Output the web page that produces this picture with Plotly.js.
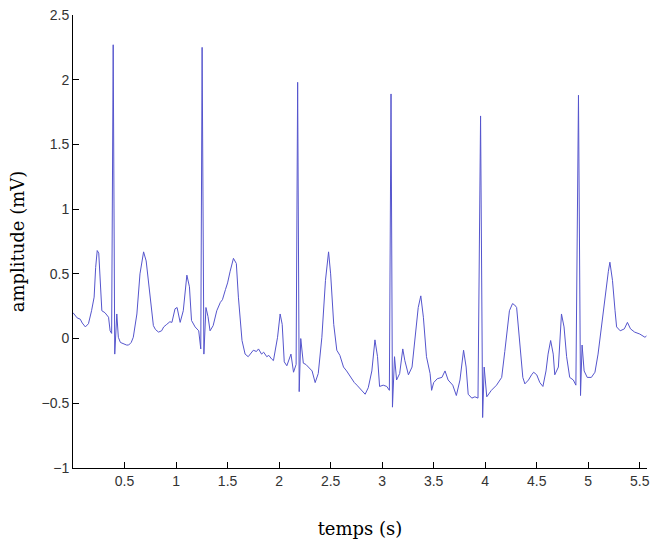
<!DOCTYPE html>
<html>
<head>
<meta charset="utf-8">
<script src="https://cdn.plot.ly/plotly-3.0.1.min.js"></script>
<style>html,body{margin:0;padding:0;background:#fff;}#chart{width:652px;height:542px;}</style>
</head>
<body>
<div id="chart"></div>
<script>
// ECG samples: time (s) and amplitude (mV)
const timeS = [
  0.00, 0.02, 0.04, 0.07, 0.09, 0.12, 0.15, 0.18, 0.205, 0.22, 0.235, 0.25, 0.265, 0.28, 0.31, 0.33, 0.345, 0.36, 0.375, 0.39, 0.405, 0.425, 0.44, 0.46, 0.49, 0.52, 0.54, 0.565, 0.585, 0.60, 0.62, 0.65, 0.685, 0.71, 0.75, 0.78, 0.80, 0.83,
  0.86, 0.88, 0.91, 0.94, 0.96, 0.99, 1.01, 1.04, 1.07, 1.105, 1.13, 1.15, 1.185, 1.22, 1.24, 1.253, 1.27, 1.29, 1.31, 1.33, 1.36, 1.395, 1.43, 1.45, 1.48, 1.50, 1.525, 1.557, 1.585, 1.605, 1.64, 1.67, 1.70,
  1.73, 1.75, 1.78, 1.80, 1.83, 1.85, 1.88, 1.90, 1.93, 1.945, 1.985, 2.01, 2.03, 2.05, 2.075, 2.115, 2.14, 2.165, 2.18, 2.195, 2.21, 2.235, 2.26, 2.285, 2.32, 2.35, 2.38, 2.415, 2.45, 2.48, 2.50, 2.53, 2.56, 2.59,
  2.625, 2.655, 2.68, 2.705, 2.73, 2.755, 2.78, 2.80, 2.835, 2.865, 2.90, 2.93, 2.955, 2.975, 3.01, 3.045, 3.07, 3.086, 3.10, 3.12, 3.14, 3.17, 3.20, 3.22, 3.255, 3.29, 3.32, 3.35, 3.375, 3.40, 3.43, 3.465,
  3.48, 3.50, 3.535, 3.58, 3.61, 3.64, 3.685, 3.72, 3.755, 3.79, 3.815, 3.835, 3.87, 3.90, 3.93, 3.955, 3.975, 3.99, 4.015, 4.06, 4.11, 4.16, 4.19, 4.21, 4.235, 4.265, 4.285, 4.305, 4.33, 4.365, 4.385,
  4.42, 4.45, 4.47, 4.50, 4.53, 4.56, 4.59, 4.61, 4.635, 4.66, 4.675, 4.71, 4.74, 4.765, 4.79, 4.82, 4.855, 4.88, 4.905, 4.925, 4.94, 4.96, 4.99, 5.03, 5.065, 5.095, 5.13, 5.16, 5.195, 5.21, 5.235, 5.26, 5.275, 5.31, 5.35, 5.38, 5.41, 5.45, 5.50, 5.55, 5.565
];
const amplitudeMV = [
  0.20, 0.18, 0.16, 0.15, 0.12, 0.09, 0.115, 0.215, 0.32, 0.55, 0.68, 0.66, 0.45, 0.215, 0.20, 0.18, 0.165, 0.06, 0.04, 2.27, -0.12, 0.19, 0.01, -0.03, -0.04, -0.05, -0.05, -0.03, 0.01, 0.08, 0.19, 0.50, 0.67, 0.60, 0.32, 0.10, 0.07, 0.05,
  0.06, 0.09, 0.11, 0.13, 0.125, 0.23, 0.24, 0.125, 0.215, 0.49, 0.40, 0.14, 0.09, 0.06, -0.08, 2.25, -0.12, 0.24, 0.17, 0.06, 0.10, 0.215, 0.28, 0.30, 0.38, 0.43, 0.52, 0.62, 0.58, 0.32, -0.015, -0.12, -0.14,
  -0.11, -0.09, -0.10, -0.08, -0.12, -0.105, -0.14, -0.13, -0.16, -0.17, 0.01, 0.19, 0.11, -0.18, -0.21, -0.12, -0.26, -0.20, 1.98, -0.41, 0.0, -0.19, -0.20, -0.22, -0.25, -0.34, -0.27, 0.01, 0.45, 0.67, 0.50, 0.11, -0.09, -0.13,
  -0.22, -0.25, -0.28, -0.32, -0.34, -0.36, -0.38, -0.40, -0.43, -0.38, -0.25, -0.01, -0.14, -0.37, -0.36, -0.37, -0.40, 1.89, -0.53, -0.14, -0.32, -0.27, -0.08, -0.17, -0.28, -0.22, 0.036, 0.24, 0.33, 0.165, -0.14, -0.27,
  -0.40, -0.34, -0.31, -0.30, -0.25, -0.32, -0.36, -0.44, -0.32, -0.09, -0.22, -0.43, -0.46, -0.45, -0.46, 1.72, -0.61, -0.22, -0.45, -0.40, -0.36, -0.30, -0.10, 0.05, 0.215, 0.27, 0.26, 0.24, 0.01, -0.30, -0.35,
  -0.32, -0.28, -0.26, -0.28, -0.34, -0.37, -0.25, -0.12, -0.015, -0.12, -0.28, -0.22, 0.19, 0.09, -0.14, -0.30, -0.32, -0.36, 1.88, -0.44, -0.05, -0.25, -0.30, -0.30, -0.26, -0.12, 0.11, 0.32, 0.52, 0.59, 0.45, 0.215, 0.09, 0.06, 0.075, 0.125, 0.075, 0.05, 0.035, 0.01, 0.02
];
const xTicks = [0.5, 1, 1.5, 2, 2.5, 3, 3.5, 4, 4.5, 5, 5.5];
const yTicks = [-1, -0.5, 0, 0.5, 1, 1.5, 2, 2.5];
const xTitle = 'temps (s)';
const yTitle = 'amplitude (mV)';

const trace = {
  x: timeS, y: amplitudeMV, type: 'scatter', mode: 'lines',
  line: {color: 'rgb(85,85,205)', width: 1}
};
const tickFont = {family: 'Liberation Sans, Arial, sans-serif', size: 14, color: '#333'};
const titleFont = {family: 'DejaVu Serif, serif', size: 18, color: '#000'};
const layout = {
  width: 652, height: 542,
  margin: {l: 73, r: 5, t: 15, b: 74},
  paper_bgcolor: '#fff', plot_bgcolor: '#fff',
  showlegend: false,
  xaxis: {
    range: [0, 5.57], tickvals: xTicks, ticktext: xTicks.map(String),
    ticks: 'inside', ticklen: 6, tickcolor: '#000', tickwidth: 1,
    showline: true, linecolor: '#000', linewidth: 1, mirror: false,
    showgrid: false, zeroline: false, tickfont: tickFont,
    title: {text: xTitle, font: titleFont, standoff: 34}
  },
  yaxis: {
    range: [-1, 2.5], tickvals: yTicks,
    ticks: 'inside', ticklen: 6, tickcolor: '#000', tickwidth: 1,
    showline: true, linecolor: '#000', linewidth: 1, mirror: false,
    showgrid: false, zeroline: false, tickfont: tickFont,
    title: {text: yTitle, font: titleFont, standoff: 12}
  }
};
Plotly.newPlot('chart', [trace], layout, {staticPlot: true, displayModeBar: false});
</script>
</body>
</html>
